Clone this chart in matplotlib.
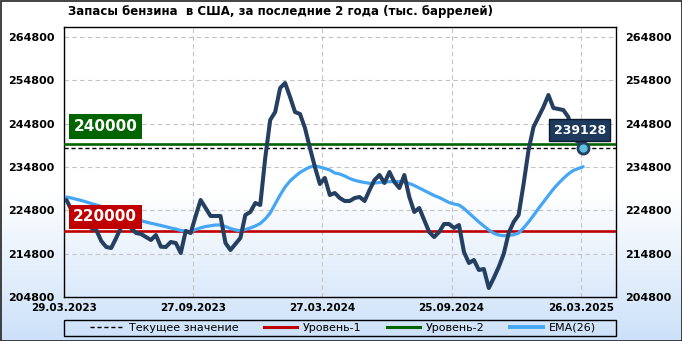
import numpy as np
import matplotlib
matplotlib.use("Agg")
import matplotlib.pyplot as plt
from matplotlib.lines import Line2D
from matplotlib.patches import Rectangle

# weekly gasoline stocks, thousand barrels (29.03.2023 .. 26.03.2025)
stocks = [
    227185, 224877, 223492, 222569, 221646, 220723, 220262, 217723, 216338, 216108,
    218415, 220954, 222108, 220723, 219569, 219338, 218646, 217954, 219108, 216408,
    216338, 217492, 217262, 214954, 220031, 219569, 223492, 227185, 225338, 223492,
    223492, 223492, 217262, 215646, 217031, 218415, 223723, 224415, 226492, 226031,
    236877, 245646, 247492, 253031, 254185, 250954, 247492, 247031, 243800, 239185,
    234800, 230877, 232262, 228338, 228800, 227646, 226954, 226954, 227646, 227877,
    226954, 229492, 231800, 232954, 231108, 233646, 231338, 229954, 232954, 227877,
    224415, 225338, 222569, 219800, 218646, 219800, 221646, 221646, 220723, 221415,
    215185, 212646, 213338, 211031, 211262, 206877, 209185, 211723, 214723, 219569,
    222108, 223723, 230877, 238723, 244031, 246338, 248646, 251415, 248415, 248185,
    247954, 246338, 241492, 240569, 239128,
]

ema26 = [
    227877, 227646, 227346, 227069, 226723, 226377, 226031, 225685, 225223, 224762,
    224300, 223838, 223492, 223146, 222685, 222385, 222108, 221808, 221577, 221300,
    221023, 220723, 220492, 220146, 220031, 219869, 220377, 220769, 221069, 221231,
    221415, 221415, 221069, 220608, 220262, 220100, 220377, 220723, 221185, 221762,
    222800, 224185, 226262, 228338, 230185, 231569, 232608, 233531, 234223, 234800,
    235031, 234800, 234454, 234108, 233415, 233185, 232723, 232146, 231731, 231454,
    231223, 231038, 231108, 231223, 231338, 231408, 231454, 231454, 231338, 230992,
    230531, 229954, 229377, 228800, 228223, 227762, 227185, 226608, 226262, 226031,
    225223, 224185, 223146, 222108, 221185, 220262, 219500, 219108, 218946, 218992,
    219177, 219569, 220723, 222108, 223608, 225223, 226723, 228223, 229723, 230992,
    232146, 233185, 233992, 234454, 234869,
]

level_1 = 220000
level_2 = 240000
current = 239128

date_labels = ["29.03.2023", "27.09.2023", "27.03.2024", "25.09.2024", "26.03.2025"]
y_ticks = [204800, 214800, 224800, 234800, 244800, 254800, 264800]

title = "Запасы бензина  в США, за последние 2 года (тыс. баррелей)"

NAVY = "#243f60"
BLUE = "#45a6f4"
RED = "#c00000"
GREEN = "#006400"

plt.rcParams["font.family"] = ["DejaVu Sans"]

fig = plt.figure(figsize=(6.82, 3.41), dpi=100)

# background gradient: white in the upper half, light blue at the bottom
bg = fig.add_axes([0, 0, 1, 1], zorder=-10)
grad = np.ones((256, 1, 3))
t = np.clip((np.linspace(0, 1, 256) - 0.56) / 0.44, 0, 1)
bottom_col = np.array([0xcc, 0xe1, 0xf9]) / 255
for k in range(3):
    grad[:, 0, k] = 1 - t * (1 - bottom_col[k])
bg.imshow(grad, aspect="auto", extent=[0, 1, 0, 1], origin="upper")
bg.set_axis_off()

ax = fig.add_axes([64 / 682, 44 / 341, 551.5 / 682, 270 / 341])
ax.set_facecolor("none")

x = np.arange(len(stocks))
tick_pos = [i * 26 - 0.5 for i in range(len(date_labels))]

ax.axhline(current, color="black", lw=1.0, ls=(0, (3, 2)), zorder=3)
ax.axhline(level_1, color=RED, lw=1.9, zorder=3)
ax.axhline(level_2, color=GREEN, lw=1.9, zorder=3)
ax.plot(x, ema26, color=BLUE, lw=2.3, zorder=4, solid_capstyle="round")
ax.plot(x, stocks, color=NAVY, lw=2.9, zorder=5, solid_joinstyle="round",
        solid_capstyle="round")
ax.plot(x[-1], stocks[-1], "o", ms=8, mfc="#5fc0e0", mec=NAVY, mew=2, zorder=6)

ax.text(7.8, 244150, f"{level_2}", color="white", fontsize=11, fontweight="bold",
        ha="center", va="center", zorder=7,
        bbox=dict(boxstyle="square,pad=0.3", fc=GREEN, ec="none"))
ax.text(7.8, 223330, f"{level_1}", color="white", fontsize=11, fontweight="bold",
        ha="center", va="center", zorder=7,
        bbox=dict(boxstyle="square,pad=0.3", fc=RED, ec="none"))
ax.text(103.3, 243300, f"{current}", color="white", fontsize=9, fontweight="bold",
        ha="center", va="center", zorder=7,
        bbox=dict(boxstyle="square,pad=0.35", fc="#1d3a5c", ec="#0b1a2c", lw=1.0))

ax.set_xlim(-0.5, 110.5)
ax.set_ylim(204800, 267108)
ax.set_xticks(tick_pos)
ax.set_xticklabels(date_labels)
ax.set_yticks(y_ticks)
ax.tick_params(axis="y", length=0, pad=7, labelsize=8, labelright=True)
ax.tick_params(axis="x", length=0, pad=4, labelsize=7.5)
for lab in ax.get_xticklabels():
    lab.set_fontweight("bold")
for tk in ax.yaxis.get_major_ticks():
    tk.label1.set_fontweight("bold")
    tk.label2.set_fontweight("bold")

ax.grid(True, color="#c4c4c4", ls=(0, (4, 3)), lw=0.8)
for s in ax.spines.values():
    s.set_color("black")
    s.set_linewidth(1.0)

fig.text(68 / 682, 1 - 12 / 341, title, fontsize=8.5, fontweight="bold",
         ha="left", va="center")

# legend with its own frame
fig.add_artist(Rectangle((64 / 682, 1 - 336 / 341), 552 / 682, 16 / 341,
                         transform=fig.transFigure, fill=False, ec="black", lw=1.0))
handles = [
    Line2D([], [], color="black", lw=1.0, ls=(0, (3, 2))),
    Line2D([], [], color=RED, lw=2.2),
    Line2D([], [], color=GREEN, lw=2.2),
    Line2D([], [], color=BLUE, lw=2.8),
]
fig.legend(handles, ["Текущее значение", "Уровень-1", "Уровень-2", "EMA(26)"],
           loc="center", bbox_to_anchor=(343 / 682, 1 - 328 / 341), ncol=4,
           frameon=False, fontsize=8, handlelength=3.0, handletextpad=0.5,
           columnspacing=2.3, borderpad=0, borderaxespad=0)

fig.add_artist(Rectangle((0.5 / 682, 0.5 / 341), 681 / 682, 340 / 341,
                         transform=fig.transFigure, fill=False, ec="#222222", lw=1.2))

fig.savefig("out.png", dpi=100)
